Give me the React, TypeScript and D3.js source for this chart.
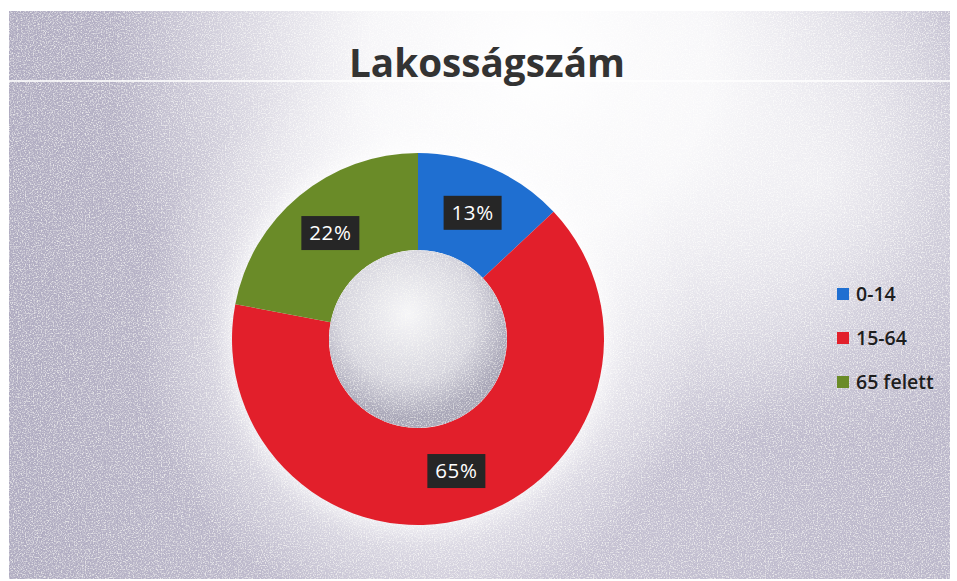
import React from 'react'
import * as d3 from 'd3'

const categories = ['0-14', '15-64', '65 felett']
const shares = [13, 65, 22]
const colors = ['#1f6fd1', '#e21f2b', '#6a8b28']
const title = 'Lakosságszám'

const W = 957
const H = 581

export default function App() {
  const cx = 418
  const cy = 339
  const outerR = 186
  const innerR = 89

  const pie = d3.pie<number>().sort(null).value(d => d)
  const arcs = pie(shares)
  const arc = d3.arc<d3.PieArcDatum<number>>().innerRadius(innerR).outerRadius(outerR)

  const legendY = d3.scalePoint<string>().domain(categories).range([294, 382])

  return (
    <svg width={W} height={H} style={{ position: 'absolute', left: 0, top: 0 }}
      fontFamily="'Open Sans', 'DejaVu Sans', sans-serif">
      <defs>
        <radialGradient id="glowTop" cx="540" cy="60" r="430" gradientUnits="userSpaceOnUse">
          <stop offset="0" stopColor="#ffffff" stopOpacity="1" />
          <stop offset="0.4" stopColor="#ffffff" stopOpacity="0.85" />
          <stop offset="1" stopColor="#ffffff" stopOpacity="0" />
        </radialGradient>
        <radialGradient id="glowRight" cx="820" cy="180" r="260" gradientUnits="userSpaceOnUse">
          <stop offset="0" stopColor="#ffffff" stopOpacity="0.6" />
          <stop offset="1" stopColor="#ffffff" stopOpacity="0" />
        </radialGradient>
        <radialGradient id="glowDonut" cx={cx} cy={cy} r="280" gradientUnits="userSpaceOnUse">
          <stop offset="0" stopColor="#ffffff" stopOpacity="0.6" />
          <stop offset="0.72" stopColor="#ffffff" stopOpacity="0.4" />
          <stop offset="1" stopColor="#ffffff" stopOpacity="0" />
        </radialGradient>
        <radialGradient id="hole" cx={cx - 10} cy={cy - 25} r={innerR + 15} gradientUnits="userSpaceOnUse">
          <stop offset="0" stopColor="#f6f6f8" />
          <stop offset="0.65" stopColor="#d6d5de" />
          <stop offset="1" stopColor="#a9a7b8" />
        </radialGradient>
        <linearGradient id="base" x1="0" y1="0" x2="1" y2="0">
          <stop offset="0" stopColor="#aeaac0" />
          <stop offset="0.5" stopColor="#c9c5d6" />
          <stop offset="1" stopColor="#bab6ca" />
        </linearGradient>
        <filter id="noise" x="0" y="0" width="100%" height="100%">
          <feTurbulence type="fractalNoise" baseFrequency="0.75" numOctaves="2" seed="5" />
          <feColorMatrix type="matrix"
            values="0 0 0 0 0.97  0 0 0 0 0.97  0 0 0 0 0.93  0 0 0 -3.2 1.75" />
        </filter>
        <filter id="noiseDark" x="0" y="0" width="100%" height="100%">
          <feTurbulence type="fractalNoise" baseFrequency="0.6" numOctaves="2" seed="11" />
          <feColorMatrix type="matrix"
            values="0 0 0 0 0.55  0 0 0 0 0.53  0 0 0 0 0.62  0 0 0 -3.5 1.8" />
        </filter>
        <filter id="soft" x="-30%" y="-30%" width="160%" height="160%">
          <feGaussianBlur stdDeviation="10" />
        </filter>
        <clipPath id="holeClip">
          <circle cx={cx} cy={cy} r={innerR} />
        </clipPath>
      </defs>

      <rect x={0} y={0} width={W} height={H} fill="#ffffff" />
      {/* scanned background */}
      <rect x={9} y={11} width={941} height={568} fill="url(#base)" />
      <rect x={9} y={11} width={941} height={568} filter="url(#noiseDark)" opacity={0.5} />
      <rect x={9} y={11} width={941} height={568} filter="url(#noise)" opacity={0.7} />
      <rect x={9} y={11} width={941} height={568} fill="url(#glowTop)" />
      <rect x={9} y={11} width={941} height={568} fill="url(#glowRight)" />
      <rect x={9} y={11} width={941} height={568} fill="url(#glowDonut)" />
      <line x1={9} x2={950} y1={81} y2={81} stroke="#ffffff" strokeWidth={2} opacity={0.8} />

      <text x={487} y={77} textAnchor="middle" fontSize={40} fontWeight={700} fill="#333333"
        textLength={276} lengthAdjust="spacingAndGlyphs">{title}</text>

      {/* donut */}
      <circle cx={cx} cy={cy} r={outerR + 6} fill="#ffffff" opacity={0.7} filter="url(#soft)" />
      <g transform={`translate(${cx},${cy})`}>
        {arcs.map((a, i) => (
          <path key={categories[i]} d={arc(a) || ''} fill={colors[i]} />
        ))}
      </g>
      <g clipPath="url(#holeClip)">
        <circle cx={cx} cy={cy} r={innerR} fill="url(#hole)" />
        <rect x={cx - innerR} y={cy - innerR} width={innerR * 2} height={innerR * 2}
          filter="url(#noise)" opacity={0.6} />
      </g>

      {arcs.map((a, i) => {
        const [x, y] = arc.centroid(a)
        return (
          <g key={'lbl' + i} transform={`translate(${cx + x},${cy + y})`}>
            <rect x={-29} y={-17} width={58} height={34} fill="#262626" />
            <text x={0} y={7} textAnchor="middle" fontSize={20.5} fill="#ffffff"
              letterSpacing={0.6}>{shares[i]}%</text>
          </g>
        )
      })}

      {/* legend */}
      {categories.map((c, i) => (
        <g key={'leg' + c} transform={`translate(837,${legendY(c)})`}>
          <rect x={0} y={-6} width={12} height={12} fill={colors[i]} />
          <text x={19} y={7} fontSize={19.5} fontWeight={600} fill="#1e1e1e">{c}</text>
        </g>
      ))}
    </svg>
  )
}
